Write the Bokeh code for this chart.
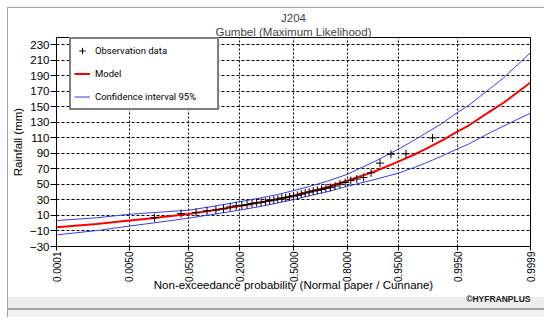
from math import pi
from statistics import NormalDist

from bokeh.plotting import figure
from bokeh.models import (Range1d, FixedTicker, Legend, LegendItem, Title,
                          ColumnDataSource)
from bokeh.embed import file_html
from bokeh.resources import INLINE

# ---------------- data ----------------
tick_probs = [0.0001, 0.005, 0.05, 0.2, 0.5, 0.8, 0.95, 0.995, 0.9999]
tick_labels = ["0.0001", "0.0050", "0.0500", "0.2000", "0.5000",
               "0.8000", "0.9500", "0.9950", "0.9999"]
y_ticks = [-30, -10, 10, 30, 50, 70, 90, 110, 130, 150, 170, 190, 210, 230]

curve_probs = [0.0001, 0.001, 0.005, 0.01, 0.05, 0.1, 0.2, 0.3, 0.4, 0.5,
               0.6, 0.7, 0.8, 0.9, 0.95, 0.97, 0.98, 0.99, 0.995, 0.997,
               0.999, 0.9995, 0.9999]
model = [-5.3, -1.0, 3.5, 5.5, 12.0, 16.5, 22.3, 26.7, 30.9, 35.5,
         40.8, 46.5, 54.8, 67.0, 79.5, 88.0, 95.0, 106.5, 118.5, 126.0,
         144.5, 155.0, 181.5]
ci_upper = [3.5, 7.0, 11.5, 13.0, 16.8, 21.5, 27.8, 32.5, 37.0, 42.0,
            47.5, 54.0, 63.0, 80.0, 95.5, 106.5, 115.0, 128.5, 143.0, 152.0,
            174.0, 187.0, 220.0]
ci_lower = [-15.0, -9.5, -3.7, -1.0, 6.5, 11.2, 17.0, 21.5, 26.0, 30.5,
            35.5, 40.5, 47.5, 56.5, 64.5, 71.5, 77.0, 86.5, 96.0, 102.0,
            117.0, 125.0, 142.0]

# sorted observed maxima (41 values), plotted at Cunnane positions
obs = [7, 12.5, 14, 16, 17, 18.5, 21, 22.5, 23, 24, 25.5, 26.5, 27, 28, 29,
       30, 31, 32.5, 33, 34, 35, 36, 37.5, 39, 40, 41.5, 42.5, 43.5, 45, 46,
       48, 50.5, 52.5, 55, 57, 59, 65, 77.5, 89, 89.5, 110]

# ---------------- normal probability paper transform ----------------
nd = NormalDist()
def z(pv):
    return nd.inv_cdf(pv)

n = len(obs)
obs_p = [(i - 0.4) / (n + 0.2) for i in range(1, n + 1)]

curve_src = ColumnDataSource(dict(z=[z(v) for v in curve_probs], model=model,
                                  up=ci_upper, lo=ci_lower))
obs_src = ColumnDataSource(dict(z=[z(v) for v in obs_p], y=obs))

tick_z = [z(v) for v in tick_probs]

FONT = "Liberation Sans"

p = figure(frame_width=474, frame_height=209,
           x_range=Range1d(tick_z[0], tick_z[-1]), y_range=Range1d(-30, 239.5),
           output_backend="svg", toolbar_location=None,
           min_border_left=47, min_border_right=14, min_border_top=29,
           min_border_bottom=71,
           background_fill_color="white", border_fill_color="white",
           border_fill_alpha=0)

# window-like decoration around the chart (grey edges and bottom status band)
p.styles = {"margin-left": "7px", "margin-top": "7px",
            "border-left": "1px solid #a0a0a0",
            "border-top": "1px solid #a0a0a0",
            "background": "white",
            "box-shadow": "inset 0 -7px 0 0 #f2f2f2, inset 0 -9px 0 0 #a5a5a5, "
                          "inset 0 -20px 0 0 #ededed"}

p.outline_line_color = "black"
p.outline_line_width = 1

# axes
p.xaxis.ticker = FixedTicker(ticks=tick_z)
p.xaxis.major_label_overrides = {t: lab for t, lab in zip(tick_z, tick_labels)}
p.xaxis.major_label_orientation = pi / 2
p.yaxis.ticker = FixedTicker(ticks=y_ticks)
for ax in (p.xaxis[0], p.yaxis[0]):
    ax.axis_line_color = "black"
    ax.major_tick_line_color = "black"
    ax.minor_tick_line_color = None
    ax.major_tick_in = 0
    ax.major_label_text_font = FONT
    ax.major_label_text_color = "black"
    ax.axis_label_text_font = FONT
    ax.axis_label_text_font_style = "normal"
    ax.axis_label_text_font_size = "11.5px"
    ax.axis_label_text_color = "black"
p.xaxis.major_tick_out = 4
p.xaxis.major_label_standoff = 1
p.xaxis.major_label_text_font_size = "10px"
p.xaxis.axis_label = "Non-exceedance probability (Normal paper / Cunnane)"
p.xaxis.axis_label_standoff = -6
p.yaxis.major_tick_out = 6
p.yaxis.major_label_standoff = 1
p.yaxis.major_label_text_font_size = "11.5px"
p.yaxis.axis_label = "Rainfall (mm)"
p.yaxis.axis_label_standoff = 3

# grids
p.xgrid.ticker = FixedTicker(ticks=tick_z)
p.xgrid.grid_line_color = "black"
p.xgrid.grid_line_dash = "2 2"
p.xgrid.grid_line_width = 1
p.ygrid.ticker = FixedTicker(ticks=y_ticks)
p.ygrid.grid_line_color = "black"
p.ygrid.grid_line_dash = "3 2"
p.ygrid.grid_line_width = 1

# titles
p.add_layout(Title(text="Gumbel (Maximum Likelihood)", align="center",
                   text_font=FONT, text_font_size="11.5px",
                   text_font_style="normal", standoff=0, offset=0), "above")
p.add_layout(Title(text="J204", align="center", text_font=FONT,
                   text_font_size="11.5px", text_font_style="normal",
                   standoff=0, offset=0), "above")
p.add_layout(Title(text="\u00a9HYFRANPLUS", align="right", text_font=FONT,
                   text_font_size="8.5px", text_font_style="bold",
                   text_color="#222222", standoff=-5, offset=0), "below")

# series
BLUE = "#3a3aff"
r_up = p.line("z", "up", source=curve_src, line_color=BLUE, line_width=1)
r_lo = p.line("z", "lo", source=curve_src, line_color=BLUE, line_width=1)
r_model = p.line("z", "model", source=curve_src, line_color="#ff0000", line_width=2)
r_obs = p.scatter("z", "y", source=obs_src, marker="cross", size=8,
                  line_color="black", line_width=1)

legend = Legend(items=[LegendItem(label="Observation data", renderers=[r_obs]),
                       LegendItem(label="Model", renderers=[r_model]),
                       LegendItem(label="Confidence interval 95%", renderers=[r_up])],
                location=(13, 136), padding=3, spacing=6, margin=0,
                glyph_width=16, glyph_height=17, label_height=17,
                label_width=119, label_standoff=5,
                label_text_font="Roboto", label_text_font_size="9.5px",
                label_text_color="black",
                border_line_color="black", border_line_width=2,
                background_fill_color="white", background_fill_alpha=1)
p.add_layout(legend, "center")

open("out.html", "w").write(file_html(p, INLINE))
